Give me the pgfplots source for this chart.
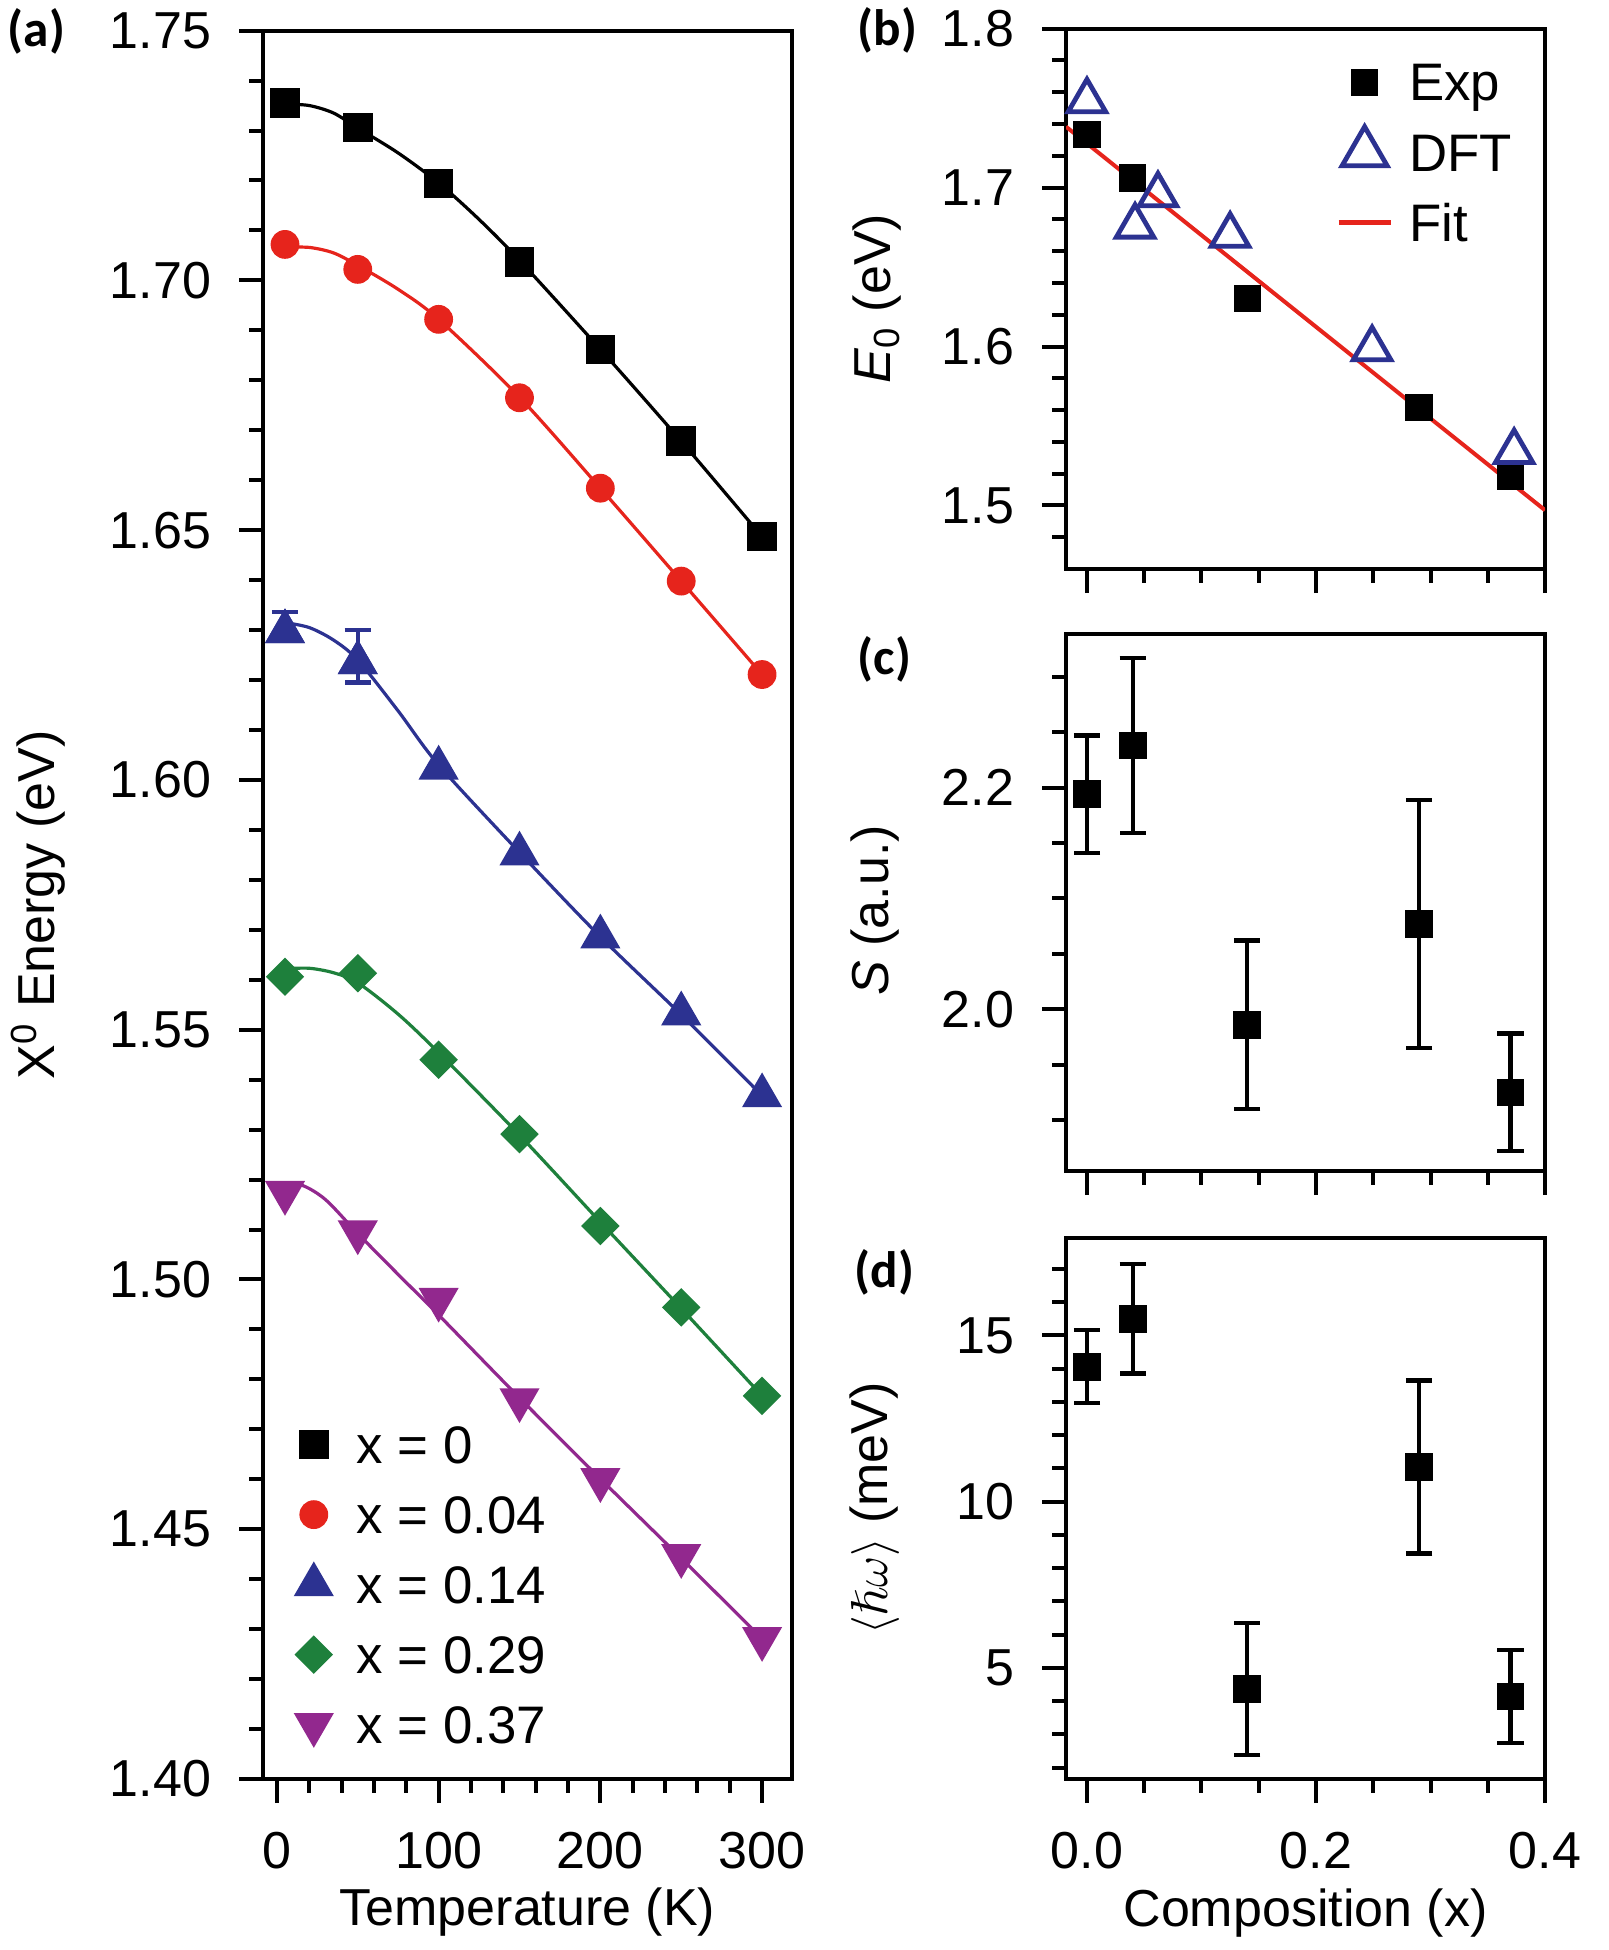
\documentclass[border=0pt]{standalone}
\usepackage{amssymb}
\usepackage{fontspec}
\setmainfont{Liberation Sans}
\newfontfamily\panelfont{Carlito}
\usepackage{pgfplots}
\pgfplotsset{compat=1.18}
\definecolor{cred}{RGB}{230,36,28}
\definecolor{cblue}{RGB}{44,50,145}
\definecolor{cgreen}{RGB}{30,128,60}
\definecolor{cpurple}{RGB}{146,40,142}
\pgfplotsset{
  lg/.style={legend image code/.code={%
    \draw[mark repeat=2,mark phase=2,##1,yshift=4.6pt] plot coordinates {(0pt,0pt)(6.5pt,0pt)(13pt,0pt)};
    \path (0pt,4.6pt) (13pt,4.6pt);}},
  lgbig/.style={legend image code/.code={%
    \draw[mark repeat=2,mark phase=2,##1,mark size=6.5pt,yshift=4.6pt] plot coordinates {(0pt,0pt)(6.5pt,0pt)(13pt,0pt)};
    \path (0pt,4.6pt) (13pt,4.6pt);}},
  myaxis/.style={
    scale only axis,
    axis line style={line width=1pt},
    every tick/.style={line width=1pt, black},
    tick align=outside,
    tick pos=left,
    major tick length=6pt, minor tick length=3.4pt,
    tick label style={font=\fontsize{13}{13}\selectfont},
    /pgf/number format/assume math mode=true,
    label style={font=\fontsize{13}{15}\selectfont},
    yticklabel style={anchor=east, inner sep=0pt, xshift=-6.75pt},
    xticklabel style={anchor=north, inner sep=0pt, yshift=-7pt},
    legend cell align=left,
    lg,
    legend style={draw=none, fill=none, inner sep=0pt, outer sep=0pt, row sep=0pt,
       nodes={inner sep=0pt, text height=11pt, text depth=6.5pt, anchor=base west},
       /tikz/every odd column/.append style={column sep=4pt},
       font=\fontsize{13.2}{13.2}\selectfont},
  },
  ebars/.style={/pgfplots/error bars/.cd, y dir=both, y explicit,
    error bar style={line width=1.1pt},
    error mark options={rotate=90, mark size=3.3pt, line width=1.1pt}, /pgfplots/.cd},
  ebarsplus/.style={/pgfplots/error bars/.cd, y dir=plus, y explicit,
    error bar style={line width=1.1pt},
    error mark options={rotate=90, mark size=3.3pt, line width=1.1pt}, /pgfplots/.cd},
}
\begin{document}
\begin{tikzpicture}
\path[use as bounding box] (0,0) rectangle (402pt,-487.5pt);

% ---------------- panel (a)
\begin{axis}[myaxis, at={(65.75pt,-444.75pt)}, anchor=south west,
  width=132.25pt, height=437.1pt,
  xmin=-8.6, xmax=318.5, ymin=1.40, ymax=1.75,
  xtick={0,100,200,300}, minor x tick num=4,
  ytick={1.40,1.45,1.50,1.55,1.60,1.65,1.70,1.75}, minor y tick num=4,
  yticklabel style={/pgf/number format/.cd, fixed, fixed zerofill, precision=2},
  xlabel={Temperature (K)}, ylabel={X\textsuperscript{0} Energy (eV)},
  xlabel style={at={(axis description cs:0.5,-0.084)}, anchor=base},
  ylabel style={at={(axis description cs:-0.425,0.5)}, anchor=center},
  legend style={at={(axis description cs:0.0454,0.2059)}, anchor=north west},
]
% fit curves
\addplot[black, line width=0.8pt, smooth, forget plot] coordinates {
 (5,1.7353)(20,1.7350)(35,1.7335)(50,1.7305)(75,1.7255)(100,1.7195)(125,1.7122)(150,1.7040)(200,1.6862)(250,1.6678)(300,1.6487)};
\addplot[cred, line width=0.8pt, smooth, forget plot] coordinates {
 (5,1.7066)(20,1.7066)(35,1.7055)(50,1.7030)(75,1.6982)(100,1.6922)(150,1.6766)(200,1.6584)(250,1.6398)(300,1.6211)};
\addplot[cblue, line width=0.8pt, smooth, forget plot] coordinates {
 (5,1.6315)(20,1.6305)(35,1.6280)(50,1.6240)(75,1.6138)(100,1.6030)(150,1.5855)(200,1.5686)(250,1.5530)(300,1.5368)};
\addplot[cgreen, line width=0.8pt, smooth, forget plot] coordinates {
 (5,1.5622)(20,1.5623)(35,1.5614)(50,1.5594)(75,1.5531)(100,1.5454)(150,1.5289)(200,1.5115)(250,1.4942)(300,1.4767)};
\addplot[cpurple, line width=0.8pt, smooth, forget plot] coordinates {
 (5,1.5182)(15,1.5189)(30,1.5160)(50,1.5092)(75,1.5010)(100,1.4929)(150,1.4763)(200,1.4601)(250,1.4442)(300,1.4281)};
% markers
\addplot[black, only marks, mark=square*, mark size=3.5pt, lg] coordinates {
 (5,1.7355)(50,1.7306)(100,1.7194)(150,1.7037)(200,1.6862)(250,1.6678)(300,1.6487)};
\addlegendentry{x = 0}
\addplot[cred, only marks, mark=*, mark size=3.4pt, lg] coordinates {
 (5,1.7072)(50,1.7022)(100,1.6922)(150,1.6765)(200,1.6584)(250,1.6398)(300,1.6211)};
\addlegendentry{x = 0.04}
\addplot[cblue, only marks, mark=triangle*, mark size=5.4pt, lg] coordinates {
 (5,1.6297)(50,1.6235)(100,1.6024)(150,1.5852)(200,1.5686)(250,1.5532)(300,1.5368)};
\addlegendentry{x = 0.14}
\addplot[cgreen, only marks, mark=square*, mark options={rotate=45}, mark size=3.2pt, lg] coordinates {
 (5,1.5606)(50,1.5613)(100,1.5440)(150,1.5291)(200,1.5107)(250,1.4944)(300,1.4767)};
\addlegendentry{x = 0.29}
\addplot[cpurple, only marks, mark=triangle*, mark options={rotate=180}, mark size=5.4pt, lg] coordinates {
 (5,1.5174)(50,1.5095)(100,1.4960)(150,1.4759)(200,1.4599)(250,1.4447)(300,1.4281)};
\addlegendentry{x = 0.37}
\addplot[cblue, only marks, mark=triangle*, mark size=5.4pt, forget plot, ebars] coordinates {
 (50,1.6235) += (0,0.0065) -= (0,0.0040)};
\addplot[cblue, only marks, mark=triangle*, mark size=5.4pt, forget plot, ebarsplus] coordinates {
 (5,1.6297) += (0,0.0039)};
\end{axis}

% ---------------- panel (b)
\begin{axis}[myaxis, at={(266.5pt,-142.25pt)}, anchor=south west,
  width=119.75pt, height=135.1pt,
  xmin=-0.0183, xmax=0.4, ymin=1.46, ymax=1.8,
  xtick={0,0.2,0.4}, xticklabels={}, minor xtick={0.05,0.1,0.15,0.25,0.3,0.35},
  ytick={1.5,1.6,1.7,1.8},
  minor ytick={1.48,1.52,1.54,1.56,1.58,1.62,1.64,1.66,1.68,1.72,1.74,1.76,1.78},
  yticklabel style={/pgf/number format/.cd, fixed, fixed zerofill, precision=1},
  ylabel={\textit{E}\textsubscript{0} (eV)},
  ylabel style={at={(axis description cs:-0.395,0.5)}, anchor=center},
  legend style={at={(axis description cs:0.5637,0.948)}, anchor=north west},
]
\addplot[cred, line width=1pt, forget plot] coordinates {(-0.0183,1.7383)(0.4,1.497)};
\addplot[black, only marks, mark=square*, mark size=3.2pt, lg] coordinates {
 (0,1.7333)(0.04,1.706)(0.14,1.630)(0.29,1.5617)(0.37,1.518)};
\addlegendentry{Exp}
\addplot[cblue, only marks, mark=triangle, mark size=5.4pt, mark options={line width=1.2pt}, lgbig] coordinates {
 (0,1.7545)(0.042,1.6756)(0.062,1.6953)(0.125,1.6699)(0.249,1.5985)(0.373,1.5338)};
\addlegendentry{DFT}
\addlegendimage{cred, line width=1.3pt}
\addlegendentry{Fit}
\end{axis}

% ---------------- panel (c)
\begin{axis}[myaxis, at={(266.5pt,-292.75pt)}, anchor=south west,
  width=119.75pt, height=134.35pt,
  xmin=-0.0183, xmax=0.4, ymin=1.854, ymax=2.339,
  xtick={0,0.2,0.4}, xticklabels={}, minor xtick={0.05,0.1,0.15,0.25,0.3,0.35},
  ytick={2.0,2.2}, minor ytick={1.9,1.95,2.05,2.1,2.15,2.25,2.3},
  yticklabel style={/pgf/number format/.cd, fixed, fixed zerofill, precision=1},
  ylabel={\textit{S} (a.u.)},
  ylabel style={at={(axis description cs:-0.399,0.485)}, anchor=center},
]
\addplot[black, only marks, mark=square*, mark size=3.25pt, ebars] coordinates {
 (0,2.194) +- (0,0.053)
 (0.04,2.238) +- (0,0.079)
 (0.14,1.986) +- (0,0.076)
 (0.29,2.077) +- (0,0.112)
 (0.37,1.925) +- (0,0.053)};
\end{axis}

% ---------------- panel (d)
\begin{axis}[myaxis, at={(266.5pt,-444.75pt)}, anchor=south west,
  width=119.75pt, height=135.25pt,
  xmin=-0.0183, xmax=0.4, ymin=1.66, ymax=17.93,
  xtick={0,0.2,0.4}, minor xtick={0.05,0.1,0.15,0.25,0.3,0.35},
  xticklabel style={/pgf/number format/.cd, fixed, fixed zerofill, precision=1},
  ytick={5,10,15}, minor ytick={2,3,4,6,7,8,9,11,12,13,14,16,17},
  xlabel={Composition (x)},
  ylabel={$\langle\hslash\omega\rangle$ (meV)},
  xlabel style={at={(axis description cs:0.5,-0.2717)}, anchor=base},
  ylabel style={at={(axis description cs:-0.399,0.5)}, anchor=center},
]
\addplot[black, only marks, mark=square*, mark size=3.25pt, ebars] coordinates {
 (0,14.06) +- (0,1.1)
 (0.04,15.5) +- (0,1.65)
 (0.14,4.37) +- (0,1.98)
 (0.29,11.04) +- (0,2.6)
 (0.37,4.14) +- (0,1.4)};
\end{axis}

% panel letters
\node[anchor=west, inner sep=0pt, font=\panelfont\bfseries\fontsize{12.8}{13}\selectfont] at (1.75pt,-7.75pt) {(a)};
\node[anchor=west, inner sep=0pt, font=\panelfont\bfseries\fontsize{12.8}{13}\selectfont] at (214.25pt,-7.5pt) {(b)};
\node[anchor=west, inner sep=0pt, font=\panelfont\bfseries\fontsize{12.8}{13}\selectfont] at (214.25pt,-164.75pt) {(c)};
\node[anchor=west, inner sep=0pt, font=\panelfont\bfseries\fontsize{12.8}{13}\selectfont] at (213.5pt,-318pt) {(d)};
\end{tikzpicture}
\end{document}
